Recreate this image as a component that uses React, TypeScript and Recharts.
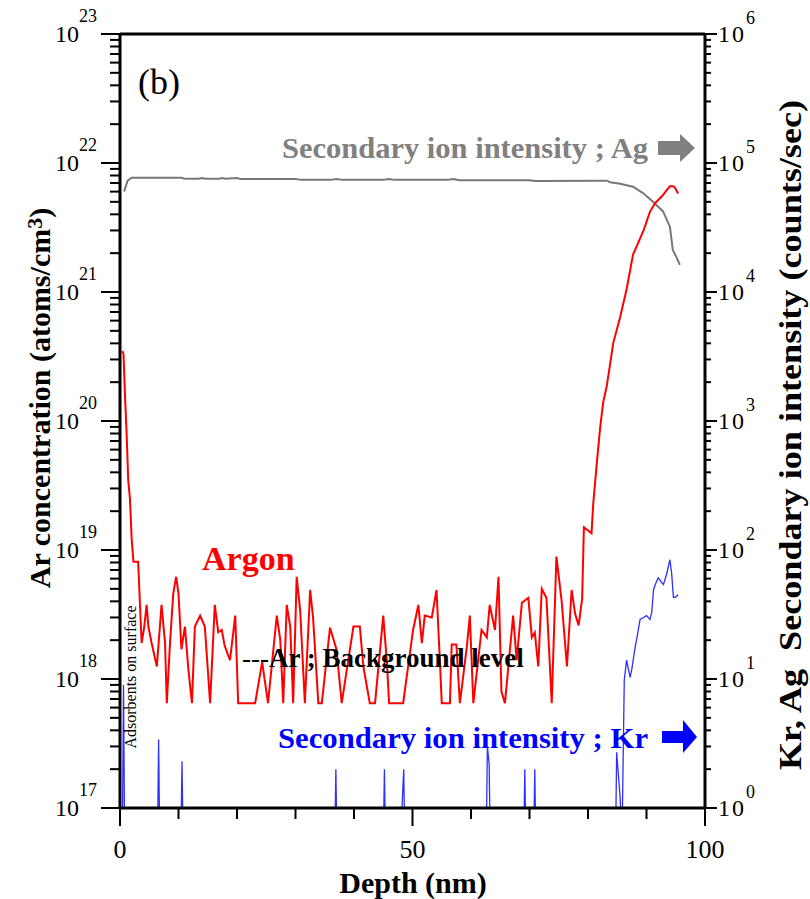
import { LineChart, Line, XAxis, YAxis, ReferenceLine } from 'recharts';

const SERIF = '"Liberation Serif", "Times New Roman", serif';

// depth (nm) vs Ar concentration (atoms/cm3)
const argon: [number, number][] = [
  [0.4, 3.5e20], [0.6, 3.3e20], [0.85, 1.6e20], [1.15, 7.6e19], [1.4, 3.5e19], [1.7, 2.5e19],
  [2.0, 1.2e19], [2.3, 8.1e18], [3.1, 8.1e18], [3.4, 3.9e18], [3.7, 1.9e18], [4.15, 2.55e18],
  [4.55, 3.75e18], [4.85, 2.55e18], [5.4, 1.9e18], [6.3, 1.25e18], [7.1, 3.75e18], [7.7, 1.9e18],
  [8.0, 6.5e17], [8.55, 1.9e18], [9.1, 4.6e18], [9.6, 6.2e18], [10.0, 4.6e18], [10.5, 1.7e18],
  [11.1, 2.55e18], [11.7, 1.17e18], [12.3, 6.5e17], [12.8, 2.55e18], [13.7, 3.1e18], [14.5, 2.55e18],
  [15.4, 6.5e17], [16.2, 3.75e18], [16.8, 2.3e18], [17.4, 2.4e18], [17.9, 1.8e18], [18.8, 1.4e18],
  [19.7, 3.1e18], [20.2, 6.5e17], [23.1, 6.5e17], [24.3, 1.35e18], [25.3, 6.5e17], [26.8, 3.1e18],
  [27.4, 2.0e18], [27.9, 6.5e17], [28.5, 3.75e18], [29.1, 2.55e18], [29.6, 6.5e17], [30.2, 6.2e18],
  [30.8, 3.4e18], [31.6, 6.5e17], [32.5, 4.9e18], [33.0, 3.0e18], [33.9, 6.5e17], [34.5, 6.5e17],
  [35.9, 2.5e18], [37.0, 1.7e18], [37.9, 6.5e17], [39.9, 2.55e18], [41.0, 2.55e18], [41.6, 1.25e18],
  [42.7, 6.5e17], [43.6, 6.5e17], [45.0, 3.1e18], [45.6, 1.4e18], [46.0, 6.5e17], [48.4, 6.5e17],
  [50.1, 2.4e18], [51.0, 3.75e18], [51.6, 1.9e18], [52.1, 3.1e18], [53.3, 3.0e18], [54.1, 4.9e18],
  [54.7, 1.33e18], [55.0, 6.5e17], [56.4, 6.5e17], [56.7, 1.85e18], [57.5, 1.85e18], [58.1, 6.5e17],
  [59.3, 1.8e18], [59.8, 3.1e18], [60.4, 6.5e17], [61.8, 2.4e18], [62.7, 2.1e18], [63.2, 3.75e18],
  [64.1, 2.4e18], [64.7, 6.2e18], [65.2, 8.0e17], [65.8, 6.5e17], [67.2, 3.1e18], [67.8, 1.4e18],
  [68.7, 3.9e18], [69.8, 4.25e18], [70.4, 2.1e18], [70.9, 2.3e18], [71.5, 1.25e18], [72.1, 5.0e18],
  [72.9, 4.25e18], [73.8, 6.5e17], [74.6, 8.9e18], [75.5, 4.0e18], [76.4, 1.25e18], [77.2, 4.9e18],
  [77.8, 3.2e18], [78.4, 2.6e18], [79.0, 4.2e18], [79.3, 1.5e19], [80.6, 1.35e19], [80.9, 2.3e19],
  [81.5, 4.7e19], [82.1, 9.1e19], [82.6, 1.4e20], [83.2, 1.86e20], [83.8, 2.8e20], [84.3, 4.0e20],
  [85.5, 6.4e20], [86.6, 1.05e21], [87.7, 1.95e21], [88.3, 2.25e21], [89.5, 3.0e21], [90.6, 4.2e21],
  [91.5, 4.9e21], [92.6, 5.5e21], [93.5, 6.2e21], [94.0, 6.6e21], [94.6, 6.6e21], [94.9, 6.4e21],
  [95.4, 5.8e21],
];

// depth (nm) vs Ag secondary ion intensity (counts/sec)
const silver: [number, number][] = [
  [0.7, 60000], [1.3, 73000], [2.0, 77000], [10.5, 77000], [11.0, 75500], [13.5, 75500],
  [14.0, 76500], [14.6, 75500], [17.0, 75500], [17.5, 76500], [18.0, 75500], [20.0, 76500],
  [20.6, 75000], [30.0, 75000], [31.0, 74000], [36.0, 74000], [37.0, 75000], [38.0, 74000],
  [45.0, 74000], [46.0, 75000], [47.0, 74000], [56.0, 74000], [57.0, 75000], [58.0, 73500],
  [70.0, 73500], [71.0, 72500], [83.2, 73000], [83.8, 71000], [85.5, 69000], [87.7, 65500],
  [89.4, 58500], [91.1, 50000], [92.8, 42300], [94.0, 32100], [94.5, 21200], [95.2, 18300],
  [95.7, 16200],
];

// depth (nm) vs Kr secondary ion intensity (counts/sec); 0.5 = no counts (below axis)
const krypton: [number, number][] = [
  [0.4, 0.5], [0.6, 9], [0.8, 0.5], [6.4, 0.5], [6.6, 3.4], [6.8, 0.5],
  [10.4, 0.5], [10.6, 2.3], [10.8, 0.5], [36.7, 0.5], [36.9, 2], [37.1, 0.5],
  [45.0, 0.5], [45.2, 2], [45.4, 0.5], [47.9, 0.5], [48.5, 2], [48.7, 0.5],
  [62.6, 0.5], [62.8, 3], [63.1, 2.2], [63.3, 0.5], [69.0, 0.5], [69.2, 2], [69.4, 0.5],
  [70.7, 0.5], [70.9, 2], [71.1, 0.5], [84.7, 0.5], [84.9, 2.7], [85.5, 1.2], [85.8, 0.5],
  [86.2, 9.8], [86.6, 14], [86.9, 12], [87.2, 10.3], [87.5, 12], [88.0, 17], [88.6, 24],
  [88.9, 29], [89.5, 30], [90.0, 31], [90.6, 29], [90.9, 33], [91.2, 49], [91.5, 54],
  [92.0, 61], [92.6, 56], [92.9, 54], [93.4, 64], [94.0, 84], [94.3, 66], [94.6, 43],
  [94.9, 43], [95.4, 45],
];

const depthTicks = [0, 10, 20, 30, 40, 50, 60, 70, 80, 90, 100];
const leftDecades = [17, 18, 19, 20, 21, 22, 23];
const rightDecades = [0, 1, 2, 3, 4, 5, 6];

function logTicks(decades: number[]) {
  const out: number[] = [];
  decades.forEach((d, i) => {
    out.push(Math.pow(10, d));
    if (i < decades.length - 1) {
      for (let m = 2; m <= 9; m++) out.push(m * Math.pow(10, d));
    }
  });
  return out;
}

const toRows = (pts: [number, number][]) => pts.map(([depth, value]) => ({ depth, value }));

function decadeOf(v: number) {
  const e = Math.round(Math.log10(v));
  return { e, major: Math.abs(v - Math.pow(10, e)) < v * 1e-6 };
}

const LeftTick = (props: any) => {
  const { x, y, payload } = props;
  const { e, major } = decadeOf(payload.value);
  return (
    <g>
      <line x1={x} x2={x - (major ? 19 : 10)} y1={y} y2={y} stroke="#000" strokeWidth={2} />
      {major && (
        <text x={x - 23} y={y + 8} textAnchor="end" style={{ fontFamily: SERIF }} fontSize={24} fill="#000">
          <tspan>10</tspan>
          <tspan dy={-20} fontSize={18}>{e}</tspan>
        </text>
      )}
    </g>
  );
};

const RightTick = (props: any) => {
  const { x, y, payload } = props;
  const { e, major } = decadeOf(payload.value);
  return (
    <g>
      <line x1={x} x2={x + (major ? 12 : 6)} y1={y} y2={y} stroke="#000" strokeWidth={2} />
      {major && (
        <text x={x + 13} y={y + 8} textAnchor="start" style={{ fontFamily: SERIF }} fontSize={24} fill="#000" letterSpacing={2}>
          <tspan>10</tspan>
          <tspan dy={-18} fontSize={18}>{e}</tspan>
        </text>
      )}
    </g>
  );
};

const BottomTick = (props: any) => {
  const { x, y, payload } = props;
  const major = payload.value % 50 === 0;
  return (
    <g>
      <line x1={x} x2={x} y1={y} y2={y + (major ? 18 : 11)} stroke="#000" strokeWidth={2} />
      {major && (
        <text x={x} y={y + 50} textAnchor="middle" style={{ fontFamily: SERIF }} fontSize={26} fill="#000">
          {payload.value}
        </text>
      )}
    </g>
  );
};

export default function App() {
  return (
    <div style={{ position: 'absolute', left: 0, top: 0, width: 810, height: 899, background: '#fff' }}>
      <LineChart width={810} height={899} margin={{ top: 34, right: 0, bottom: 0, left: 0 }}>
        <XAxis
          dataKey="depth"
          type="number"
          domain={[0, 100]}
          ticks={depthTicks}
          interval={0}
          height={91}
          tickSize={0}
          tickMargin={0}
          tickLine={false}
          tick={<BottomTick />}
          axisLine={{ stroke: '#000', strokeWidth: 3 }}
        />
        <YAxis
          yAxisId="left"
          orientation="left"
          scale="log"
          domain={[1e17, 1e23]}
          allowDataOverflow
          ticks={logTicks(leftDecades)}
          interval={0}
          width={120}
          tickSize={0}
          tickMargin={0}
          tickLine={false}
          tick={<LeftTick />}
          axisLine={{ stroke: '#000', strokeWidth: 3 }}
        />
        <YAxis
          yAxisId="right"
          orientation="right"
          scale="log"
          domain={[1, 1e6]}
          allowDataOverflow
          ticks={logTicks(rightDecades)}
          interval={0}
          width={105}
          tickSize={0}
          tickMargin={0}
          tickLine={false}
          tick={<RightTick />}
          axisLine={{ stroke: '#000', strokeWidth: 3 }}
        />
        <ReferenceLine yAxisId="left" y={1e23} stroke="#000" strokeWidth={3} />
        <Line
          data={toRows(silver)}
          dataKey="value"
          yAxisId="right"
          type="linear"
          stroke="#777777"
          strokeWidth={2}
          dot={false}
          isAnimationActive={false}
        />
        <Line
          data={toRows(argon)}
          dataKey="value"
          yAxisId="left"
          type="linear"
          stroke="#ff0000"
          strokeWidth={2}
          dot={false}
          isAnimationActive={false}
        />
        <Line
          data={toRows(krypton)}
          dataKey="value"
          yAxisId="right"
          type="linear"
          stroke="#3030ff"
          strokeWidth={1.3}
          dot={false}
          isAnimationActive={false}
        />
      </LineChart>
      <svg width={810} height={899} style={{ position: 'absolute', left: 0, top: 0, pointerEvents: 'none' }}>
        <g style={{ fontFamily: SERIF }}>
          <text x={138} y={94} fontSize={36} fill="#000">(b)</text>
          <text x={282} y={158} fontSize={30} fontWeight="bold" fill="#808080" textLength={366} lengthAdjust="spacingAndGlyphs">
            Secondary ion intensity ; Ag
          </text>
          <polygon points="658,141 680,141 680,134 695,148 680,162 680,155 658,155" fill="#808080" />
          <text x={202} y={570} fontSize={34} fontWeight="bold" fill="#ff0000">Argon</text>
          <text x={242} y={667} fontSize={27} fontWeight="bold" fill="#000">
            <tspan fontWeight="normal">---</tspan>Ar ; Background level
          </text>
          <text x={278} y={748} fontSize={30} fontWeight="bold" fill="#0000ff" textLength={370} lengthAdjust="spacingAndGlyphs">
            Secondary ion intensity ; Kr
          </text>
          <polygon points="662,731 683,731 683,720 697,737 683,753 683,743 662,743" fill="#0000ff" />
          <text transform="translate(136,677) rotate(-90)" textAnchor="middle" fontSize={16} fill="#000">
            Adsorbents on surface
          </text>
          <text transform="translate(50,398) rotate(-90)" textAnchor="middle" fontSize={30} fontWeight="bold" fill="#000">
            Ar concentration (atoms/cm<tspan dy={-8} fontSize={22}>3</tspan><tspan dy={8}>)</tspan>
          </text>
          <text
            transform="translate(801,435) rotate(-90)"
            textAnchor="middle"
            fontSize={31}
            fontWeight="bold"
            fill="#000"
            textLength={670}
            lengthAdjust="spacingAndGlyphs"
            style={{ whiteSpace: 'pre' }}
          >
            Kr, Ag  Secondary ion intensity (counts/sec)
          </text>
          <text x={413} y={893} textAnchor="middle" fontSize={30} fontWeight="bold" fill="#000">Depth (nm)</text>
        </g>
      </svg>
    </div>
  );
}
